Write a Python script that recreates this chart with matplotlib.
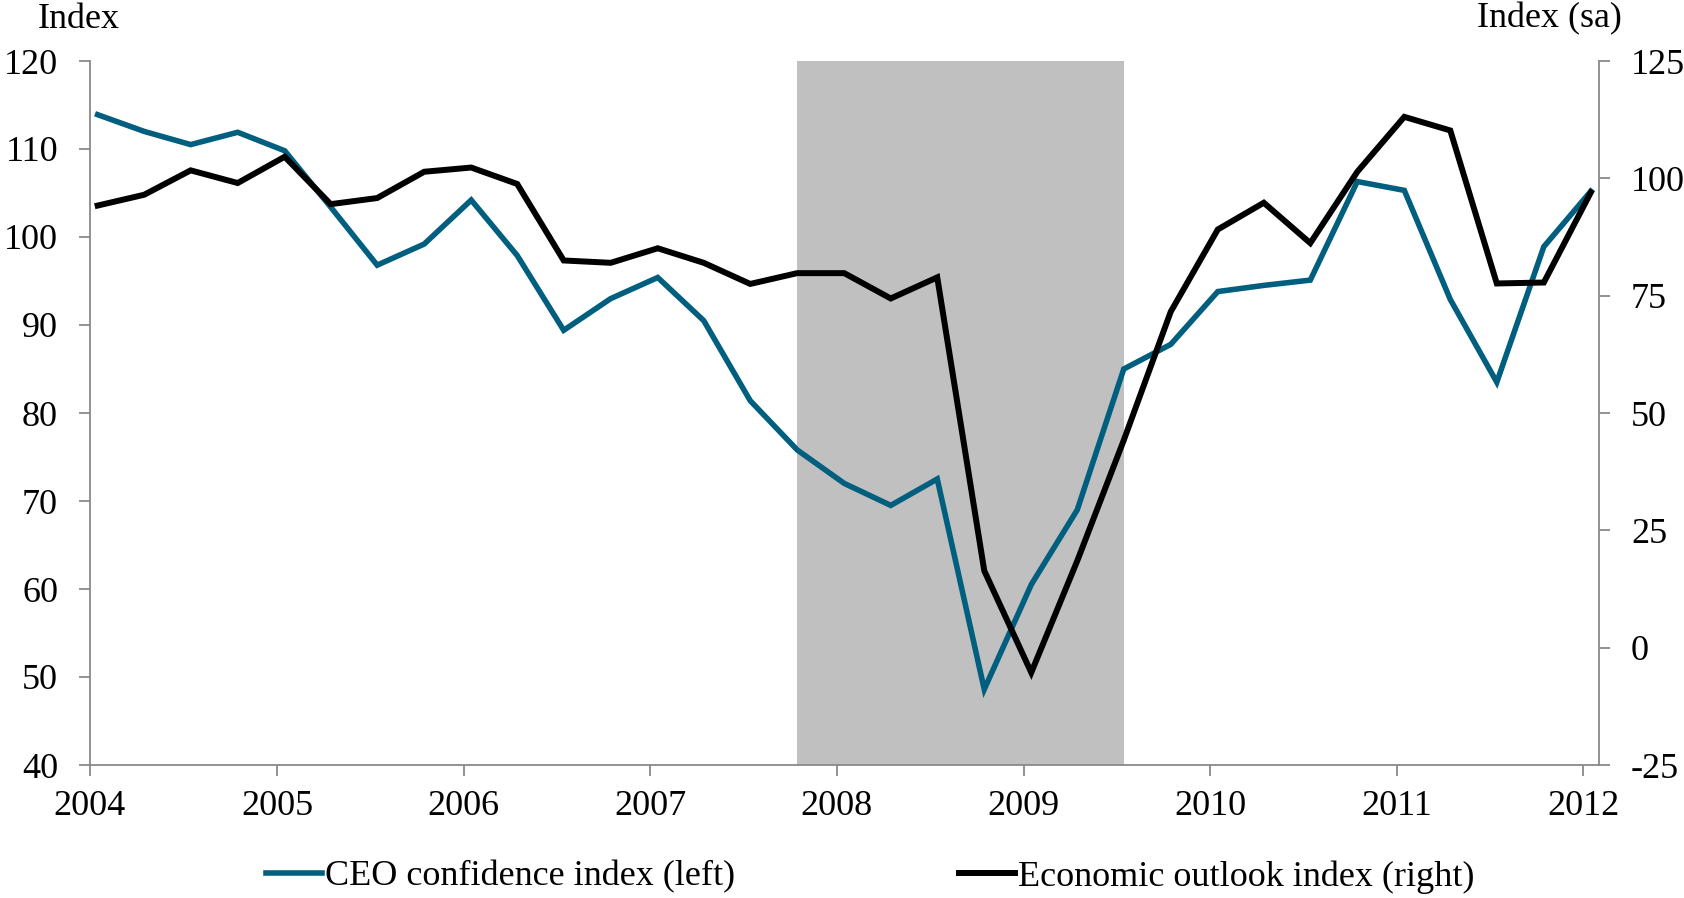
#!/usr/bin/env python3
"""CEO confidence vs economic outlook, quarterly 2004-2012."""

import matplotlib

matplotlib.use("Agg")
import matplotlib.dates as mdates
import matplotlib.pyplot as plt
import pandas as pd

# quarterly observations, 2004Q1 .. 2012Q1
dates = pd.date_range("2004-01-01", periods=33, freq="QS") + pd.Timedelta(days=15)

ceo_confidence = [
    113.9, 112.0, 110.5, 111.9, 109.8, 103.4, 96.8, 99.2,
    104.2, 97.9, 89.4, 93.0, 95.4, 90.5, 81.4, 75.8,
    72.0, 69.5, 72.5, 48.6, 60.5, 69.0, 85.0, 87.8,
    93.8, 94.5, 95.1, 106.3, 105.3, 92.9, 83.5, 98.9,
    105.2,
]
economic_outlook = [
    94.2, 96.5, 101.7, 99.0, 104.6, 94.5, 95.8, 101.4,
    102.3, 98.8, 82.5, 82.0, 85.1, 82.0, 77.5, 79.8,
    79.8, 74.4, 78.9, 16.4, -5.3, 18.5, 44.2, 71.6,
    89.1, 94.8, 86.2, 101.4, 113.1, 110.2, 77.6, 77.8,
    97.0,
]
recession = (pd.Timestamp("2007-10-16"), pd.Timestamp("2009-07-16"))

left_ticks = list(range(40, 121, 10))
right_ticks = list(range(-25, 126, 25))
year_ticks = [pd.Timestamp(f"{y}-01-01") for y in range(2004, 2013)]

TEAL = "#005f7f"
GREY = "#898989"
FS = 26

plt.rcParams["font.family"] = ["Liberation Serif", "DejaVu Serif"]
plt.rcParams["axes.unicode_minus"] = False

fig = plt.figure(figsize=(16.84, 8.98), dpi=100)
ax = fig.add_axes([90 / 1684, 1 - 765 / 898, (1599 - 90) / 1684, (765 - 61) / 898])
ax2 = ax.twinx()

ax.axvspan(*recession, color="#c0c0c0", lw=0, zorder=0)
ax.plot(dates, ceo_confidence, color=TEAL, lw=4.0, solid_joinstyle="miter",
        label="CEO confidence index (left)")
ax2.plot(dates, economic_outlook, color="black", lw=4.3, solid_joinstyle="miter",
         label="Economic outlook index (right)")

ax.set_xlim(pd.Timestamp("2004-01-01"), pd.Timestamp("2012-02-01"))
ax.set_ylim(40, 120)
ax2.set_ylim(-25, 125)
ax.set_yticks(left_ticks)
ax2.set_yticks(right_ticks)
ax.set_xticks(year_ticks)
ax.xaxis.set_major_formatter(mdates.DateFormatter("%Y"))

for a in (ax, ax2):
    a.spines["top"].set_visible(False)
    for s in ("left", "right", "bottom"):
        a.spines[s].set_color(GREY)
        a.spines[s].set_linewidth(1.3)
    a.tick_params(axis="both", length=8, width=1.3, color=GREY, labelsize=FS,
                  direction="out")
ax.spines["right"].set_visible(False)
ax2.spines["left"].set_visible(False)
ax2.spines["bottom"].set_visible(False)
ax.tick_params(axis="y", pad=15)
ax2.tick_params(axis="y", pad=15)
ax.tick_params(axis="x", pad=10)

fig.text(38 / 1684, 1 - 19 / 898, "Index", fontsize=FS, ha="left", va="center")
fig.text(1622 / 1684, 1 - 19 / 898, "Index (sa)", fontsize=FS, ha="right", va="center")

h1, l1 = ax.get_legend_handles_labels()
h2, l2 = ax2.get_legend_handles_labels()
fig.legend(h1 + h2, l1 + l2, loc="center", bbox_to_anchor=(870 / 1684, 1 - 877 / 898),
           ncol=2, frameon=False, fontsize=FS, handlelength=1.55, handletextpad=0.08,
           columnspacing=6.2, borderaxespad=0, borderpad=0)

fig.savefig("out.png", dpi=100, facecolor="white")
